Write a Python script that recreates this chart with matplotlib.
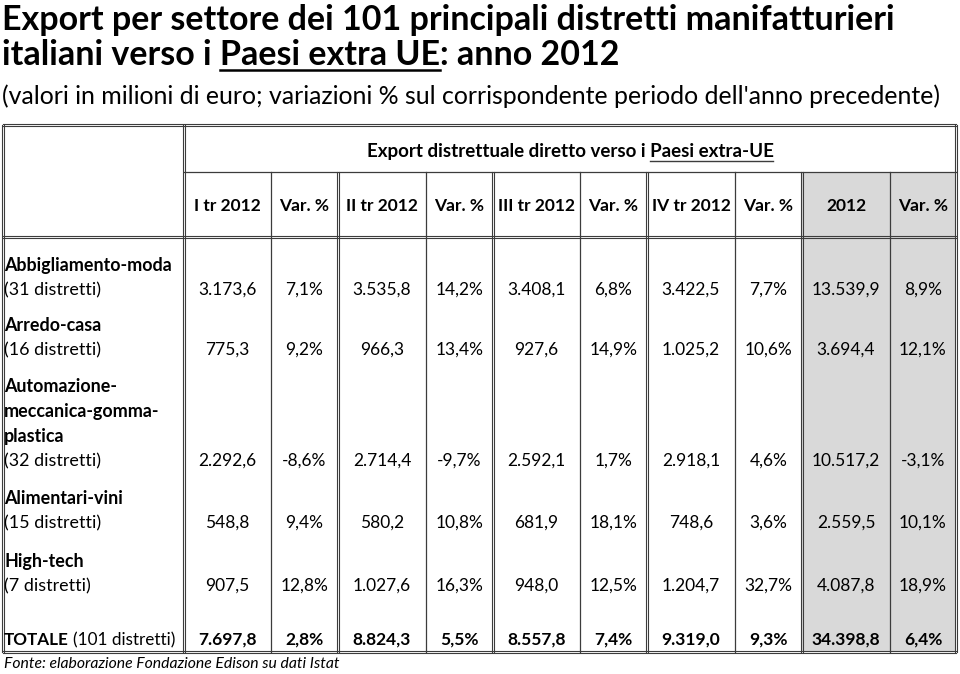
import matplotlib.pyplot as plt

plt.rcParams['font.family'] = ['Lato', 'DejaVu Sans']

# dati: export verso Paesi extra UE (milioni di euro) e variazioni %
settori = ["Abbigliamento-moda", "Arredo-casa", "Automazione-\nmeccanica-gomma-\nplastica",
           "Alimentari-vini", "High-tech"]
distretti = [31, 16, 32, 15, 7]
periodi = ["I tr 2012", "II tr 2012", "III tr 2012", "IV tr 2012", "2012"]

q1 = [3173.6, 775.3, 2292.6, 548.8, 907.5]
var_q1 = [7.1, 9.2, -8.6, 9.4, 12.8]
q2 = [3535.8, 966.3, 2714.4, 580.2, 1027.6]
var_q2 = [14.2, 13.4, -9.7, 10.8, 16.3]
q3 = [3408.1, 927.6, 2592.1, 681.9, 948.0]
var_q3 = [6.8, 14.9, 1.7, 18.1, 12.5]
q4 = [3422.5, 1025.2, 2918.1, 748.6, 1204.7]
var_q4 = [7.7, 10.6, 4.6, 3.6, 32.7]
anno = [13539.9, 3694.4, 10517.2, 2559.5, 4087.8]
var_anno = [8.9, 12.1, -3.1, 10.1, 18.9]

tot_valori = [7697.8, 8824.3, 8557.8, 9319.0, 34398.8]
tot_var = [2.8, 5.5, 7.4, 9.3, 6.4]
tot_distretti = 101


def fmt_val(v):
    s = f"{v:,.1f}"
    return s.replace(",", "X").replace(".", ",").replace("X", ".")


def fmt_pct(v):
    return f"{v:.1f}%".replace(".", ",")


fig = plt.figure(figsize=(9.6, 6.74), dpi=100)
ax = fig.add_axes([0, 0, 1, 1])
ax.set_xlim(0, 960)
ax.set_ylim(674, 0)
ax.axis('off')
r = fig.canvas.get_renderer()


def larghezza(s, **kw):
    t = ax.text(0, 0, s, **kw)
    bb = t.get_window_extent(r)
    t.remove()
    return bb.width


# layout tabella (pixel)
bordi = [184, 271, 338, 426, 493, 580, 647, 735, 802, 890, 956]
sx, top, mid, head, bottom = 3, 125, 172, 237, 652
righe_y = [290, 350, 461, 523, 586]
tot_y = 640
passo = 24.7
col = '#3c3c3c'
fs = 12.5
fs_lab = 12.9
fs_tot = 12.3
ft = 24.5

# sfondo grigio colonne 2012
ax.fill_between([bordi[8], bordi[10]], mid, bottom, color='#d9d9d9', lw=0, zorder=0)


def hline(y, x0, x1, doppia=False):
    if doppia:
        ax.plot([x0, x1], [y - 1.2, y - 1.2], color=col, lw=0.8)
        ax.plot([x0, x1], [y + 1.2, y + 1.2], color=col, lw=0.8)
    else:
        ax.plot([x0, x1], [y, y], color=col, lw=0.9)


def vline(x, y0, y1, doppia=False):
    if doppia:
        ax.plot([x - 1.2, x - 1.2], [y0, y1], color=col, lw=0.8)
        ax.plot([x + 1.2, x + 1.2], [y0, y1], color=col, lw=0.8)
    else:
        ax.plot([x, x], [y0, y1], color=col, lw=0.9)


hline(top, sx, bordi[-1], True)
hline(mid, bordi[0], bordi[-1])
hline(head, sx, bordi[-1], True)
hline(bottom, sx, bordi[-1], True)
vline(sx, top, bottom, True)
vline(bordi[0], top, bottom, True)
vline(bordi[-1], top, bottom, True)
for i, x in enumerate(bordi[1:-1]):
    vline(x, mid, bottom, doppia=(i % 2 == 1))

# titolo
ax.text(2, 30, "Export per settore dei 101 principali distretti manifatturieri",
        fontsize=ft, fontweight='bold', va='baseline')
t2 = "italiani verso i Paesi extra UE: anno 2012"
ax.text(2, 65, t2, fontsize=ft, fontweight='bold', va='baseline')
k = dict(fontsize=ft, fontweight='bold')
u0 = 2 + larghezza("italiani verso i P", **k) - larghezza("P", **k)
u1 = u0 + larghezza("Paesi extra UE", **k)
ax.plot([u0, u1], [69.5, 69.5], color='black', lw=1.8)
ax.text(2, 104, "(valori in milioni di euro; variazioni % sul corrispondente periodo "
        "dell'anno precedente)", fontsize=17.9, va='baseline')

# intestazione
h1 = "Export distrettuale diretto verso i Paesi extra-UE"
fh = 13.5
th = ax.text((bordi[0] + bordi[-1]) / 2, 157, h1, fontsize=fh, fontweight='bold',
             ha='center', va='baseline')
bb = th.get_window_extent(r)
x1 = bb.x1
x0 = x1 - larghezza("Paesi extra-UE", fontsize=fh, fontweight='bold')
ax.plot([x0, x1], [160.5, 160.5], color=col, lw=1.0)

centri = [(bordi[i] + bordi[i + 1]) / 2 for i in range(len(bordi) - 1)]
for i, p in enumerate(periodi):
    ax.text(centri[2 * i], 206, p, fontsize=fs, fontweight='bold', ha='center', va='center')
    ax.text(centri[2 * i + 1], 206, "Var. %", fontsize=fs, fontweight='bold', ha='center', va='center')

# righe
valori = [q1, q2, q3, q4, anno]
variaz = [var_q1, var_q2, var_q3, var_q4, var_anno]
for j, (s, n, y) in enumerate(zip(settori, distretti, righe_y)):
    parti = s.split("\n")
    for k2, p in enumerate(parti):
        ax.text(4, y - passo * (len(parti) - k2), p, fontsize=fs_lab, fontweight='bold', va='center')
    ax.text(4, y, f"({n} distretti)", fontsize=fs_lab, va='center')
    for i in range(5):
        ax.text(centri[2 * i], y, fmt_val(valori[i][j]), fontsize=fs, ha='center', va='center')
        ax.text(centri[2 * i + 1], y, fmt_pct(variaz[i][j]), fontsize=fs, ha='center', va='center')

# totale
tt = ax.text(4, tot_y, "TOTALE", fontsize=fs_tot, fontweight='bold', va='center')
xt = tt.get_window_extent(r).x1 + larghezza("a b", fontsize=fs_tot) - larghezza("ab", fontsize=fs_tot)
ax.text(xt, tot_y, f"({tot_distretti} distretti)", fontsize=fs_tot, va='center')
for i in range(5):
    ax.text(centri[2 * i], tot_y, fmt_val(tot_valori[i]), fontsize=fs, fontweight='bold',
            ha='center', va='center')
    ax.text(centri[2 * i + 1], tot_y, fmt_pct(tot_var[i]), fontsize=fs, fontweight='bold',
            ha='center', va='center')

ax.text(4, 664, "Fonte: elaborazione Fondazione Edison su dati Istat", fontsize=11.3,
        style='italic', va='center')

fig.savefig("out.png", dpi=100)
